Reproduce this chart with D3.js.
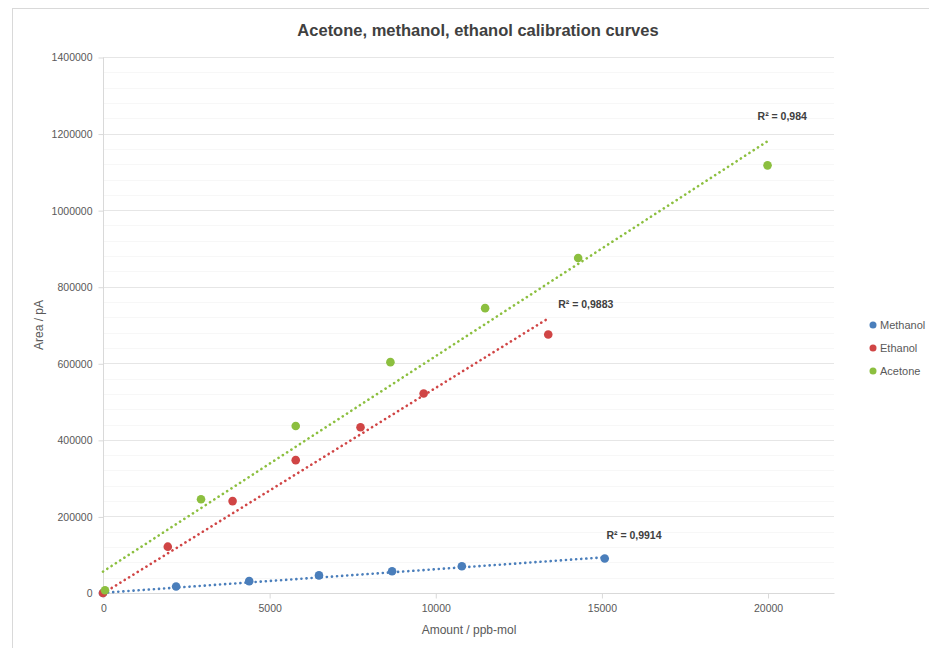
<!DOCTYPE html>
<html>
<head>
<meta charset="utf-8">
<script src="https://cdn.jsdelivr.net/npm/d3@7"></script>
<style>
  body { margin: 0; background: #fff; }
  text { font-family: "Liberation Sans", Arial, sans-serif; }
</style>
</head>
<body>
<svg id="chart" width="929" height="648"></svg>
<script>
// values
const seriesNames = ["Methanol", "Ethanol", "Acetone"];
const seriesColors = ["#4a7ebb", "#d04545", "#8cbf3f"];

const methanolX = [0, 2200, 4400, 6500, 8700, 10800, 15100];
const methanolY = [0, 17000, 31000, 46000, 57000, 70000, 90000];

const ethanolX = [0, 1950, 3900, 5800, 7750, 9650, 13400];
const ethanolY = [0, 121000, 240000, 347000, 433000, 521000, 675000];

const acetoneX = [60, 2950, 5800, 8650, 11500, 14300, 20000];
const acetoneY = [7000, 245000, 436000, 603000, 744000, 875000, 1117000];

// trend lines (slope, intercept) and R² labels as shown
const trendSlope = [6.15, 53.6, 56.2];
const trendIntercept = [500, -1000, 56000];
const r2Labels = ["R² = 0,9914", "R² = 0,9883", "R² = 0,984"];

const xTicks = [0, 5000, 10000, 15000, 20000];
const yTicks = [0, 200000, 400000, 600000, 800000, 1000000, 1200000, 1400000];

const svg = d3.select("#chart");

// chart frame
svg.append("rect")
  .attr("x", 12.5).attr("y", 8.5)
  .attr("width", 940).attr("height", 660)
  .attr("fill", "#fff").attr("stroke", "#d9d9d9");

const x = d3.scaleLinear().domain([0, 22000]).range([103, 834]);
const y = d3.scaleLinear().domain([0, 1400000]).range([593, 57]);

// minor grid
const minor = d3.range(0, 1400001, 40000).filter(v => v % 200000 !== 0);
svg.append("g").selectAll("line").data(minor).enter().append("line")
  .attr("x1", x(0)).attr("x2", x(22000))
  .attr("y1", d => Math.round(y(d)) + 0.5).attr("y2", d => Math.round(y(d)) + 0.5)
  .attr("stroke", "#f7f7f7");

// major grid
svg.append("g").selectAll("line").data(yTicks.slice(1)).enter().append("line")
  .attr("x1", x(0)).attr("x2", x(22000))
  .attr("y1", d => Math.round(y(d)) + 0.5).attr("y2", d => Math.round(y(d)) + 0.5)
  .attr("stroke", "#e6e6e6");

// y axis
const yAxis = svg.append("g")
  .attr("transform", "translate(" + (x(0) + 0.5) + ",0.5)")
  .call(d3.axisLeft(y).tickValues(yTicks).tickSize(5).tickPadding(6).tickFormat(d3.format("d")));
yAxis.select(".domain").attr("stroke", "#d9d9d9").attr("d", "M0," + y(1400000) + "V" + y(0));
yAxis.selectAll(".tick line").attr("stroke", "#d9d9d9");
yAxis.selectAll(".tick text").attr("fill", "#595959").style("font-size", "10.5px");

// x axis
const xAxis = svg.append("g")
  .attr("transform", "translate(0.5," + (y(0) + 0.5) + ")")
  .call(d3.axisBottom(x).tickValues(xTicks).tickSize(5).tickPadding(6).tickFormat(d3.format("d")));
xAxis.select(".domain").attr("stroke", "#d9d9d9").attr("d", "M" + x(0) + ",0H" + x(22000));
xAxis.selectAll(".tick line").attr("stroke", "#d9d9d9");
xAxis.selectAll(".tick text").attr("fill", "#595959").style("font-size", "10.5px");

// titles
svg.append("text")
  .attr("x", 478).attr("y", 36)
  .attr("text-anchor", "middle")
  .attr("fill", "#404040")
  .style("font-size", "16.5px").style("font-weight", "bold")
  .text("Acetone, methanol, ethanol calibration curves");

svg.append("text")
  .attr("x", 469).attr("y", 634)
  .attr("text-anchor", "middle")
  .attr("fill", "#595959")
  .style("font-size", "12px")
  .text("Amount / ppb-mol");

svg.append("text")
  .attr("transform", "translate(43,325) rotate(-90)")
  .attr("text-anchor", "middle")
  .attr("fill", "#595959")
  .style("font-size", "12px")
  .text("Area / pA");

const series = [
  { xs: methanolX, ys: methanolY },
  { xs: ethanolX, ys: ethanolY },
  { xs: acetoneX, ys: acetoneY }
];

// trend lines, over the data range from 0
series.forEach((s, i) => {
  const x0 = 0, x1 = d3.max(s.xs);
  svg.append("line")
    .attr("x1", x(x0)).attr("y1", y(trendSlope[i] * x0 + trendIntercept[i]))
    .attr("x2", x(x1)).attr("y2", y(trendSlope[i] * x1 + trendIntercept[i]))
    .attr("stroke", seriesColors[i])
    .attr("stroke-width", 2.6)
    .attr("stroke-linecap", "round")
    .attr("stroke-dasharray", "0.1 5");
});

// points
series.forEach((s, i) => {
  svg.append("g").selectAll("circle")
    .data(s.xs.map((v, k) => [v, s.ys[k]]))
    .enter().append("circle")
    .attr("cx", d => x(d[0])).attr("cy", d => y(d[1]))
    .attr("r", 4.3)
    .attr("fill", seriesColors[i]);
});

// R² labels near trend line ends
const r2Pos = [[15150, 140000], [13700, 745000], [19700, 1235000]];
r2Labels.forEach((t, i) => {
  svg.append("text")
    .attr("x", x(r2Pos[i][0])).attr("y", y(r2Pos[i][1]))
    .attr("fill", "#404040")
    .style("font-size", "10.5px").style("font-weight", "bold")
    .text(t);
});

// legend
const legend = svg.append("g").attr("transform", "translate(873,325)");
seriesNames.forEach((n, i) => {
  const g = legend.append("g").attr("transform", "translate(0," + (i * 23) + ")");
  g.append("circle").attr("r", 3.5).attr("fill", seriesColors[i]);
  g.append("text").attr("x", 7).attr("y", 4)
    .attr("fill", "#595959").style("font-size", "11px").text(n);
});
</script>
</body>
</html>
